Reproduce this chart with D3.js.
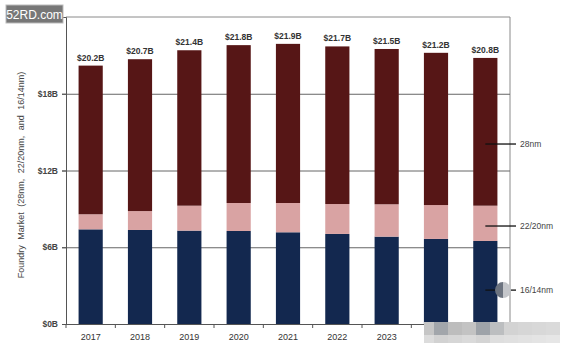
<!DOCTYPE html>
<html>
<head>
<meta charset="utf-8">
<script src="https://cdn.jsdelivr.net/npm/d3@7"></script>
<style>
  body { margin: 0; background: #fff; }
  text { font-family: "Liberation Sans", Arial, sans-serif; }
</style>
</head>
<body>
<div id="chart"></div>
<script>
// Data
const years = ['2017', '2018', '2019', '2020', '2021', '2022', '2023', '2024', '2025']
const nm1614 = [7.4, 7.35, 7.3, 7.27, 7.17, 7.04, 6.83, 6.65, 6.49]
const nm2220 = [1.18, 1.48, 1.95, 2.19, 2.29, 2.34, 2.53, 2.65, 2.76]
const nm28 = [11.62, 11.87, 12.15, 12.34, 12.44, 12.32, 12.14, 11.9, 11.55]
const totalLabels = ['$20.2B', '$20.7B', '$21.4B', '$21.8B', '$21.9B', '$21.7B', '$21.5B', '$21.2B', '$20.8B']
const yTicks = [0, 6, 12, 18]
const seriesNames = ['16/14nm', '22/20nm', '28nm']
// value level where each series label points into the last bar
const labelLevels = [2.65, 7.66, 14.07]

const rows = years.map((y, i) => ({ year: y, '16/14nm': nm1614[i], '22/20nm': nm2220[i], '28nm': nm28[i] }))

// Dimensions
const width = 586, height = 351
const plot = { left: 66, right: 510, top: 17, bottom: 324 }

const svg = d3.select('#chart').append('svg')
  .attr('width', width)
  .attr('height', height)

// Scales
const xScale = d3.scaleBand()
  .domain(years)
  .range([plot.left, plot.right])
  .paddingInner(0.51)
  .paddingOuter(0.255)

const yScale = d3.scaleLinear()
  .domain([0, 24])
  .range([plot.bottom, plot.top])

const color = d3.scaleOrdinal()
  .domain(seriesNames)
  .range(['#13284f', '#d9a3a3', '#561616'])

// frame (top + right)
svg.append('path')
  .attr('d', `M${plot.left},${plot.top}H${plot.right}V${plot.bottom}`)
  .attr('fill', 'none')
  .attr('stroke', '#8a8a8a')
  .attr('stroke-width', 1)

// gridlines
svg.append('g')
  .selectAll('line')
  .data(yTicks.filter(d => d > 0))
  .join('line')
  .attr('x1', plot.left - 4)
  .attr('x2', plot.right)
  .attr('y1', d => yScale(d) + 0.5)
  .attr('y2', d => yScale(d) + 0.5)
  .attr('stroke', '#666')
  .attr('stroke-width', 1)

// stacked bars
const stack = d3.stack().keys(seriesNames)(rows)

svg.append('g')
  .selectAll('g')
  .data(stack)
  .join('g')
  .attr('fill', d => color(d.key))
  .selectAll('rect')
  .data(d => d)
  .join('rect')
  .attr('x', d => xScale(d.data.year))
  .attr('width', xScale.bandwidth())
  .attr('y', d => yScale(d[1]))
  .attr('height', d => yScale(d[0]) - yScale(d[1]))

// total labels
svg.append('g')
  .selectAll('text')
  .data(rows)
  .join('text')
  .attr('x', d => xScale(d.year) + xScale.bandwidth() / 2)
  .attr('y', d => yScale(d3.sum(seriesNames, k => d[k])) - 5)
  .attr('text-anchor', 'middle')
  .attr('font-size', 8.5)
  .attr('font-weight', 'bold')
  .attr('fill', '#333')
  .text((d, i) => totalLabels[i])

// y axis
const yAxis = d3.axisLeft(yScale)
  .tickValues(yTicks)
  .tickSize(4)
  .tickPadding(4)
  .tickFormat(d => `$${d}B`)

const yG = svg.append('g')
  .attr('transform', `translate(${plot.left},0)`)
  .call(yAxis)
yG.select('.domain').attr('stroke', '#555')
yG.selectAll('.tick line').attr('stroke', '#555')
yG.selectAll('.tick text')
  .attr('font-size', 8.5)
  .attr('font-weight', 'bold')
  .attr('fill', '#444')
  .attr('font-family', '"Liberation Sans", Arial, sans-serif')

// x axis: ticks between categories
const xG = svg.append('g')
  .attr('transform', `translate(0,${plot.bottom})`)
xG.append('line')
  .attr('x1', plot.left - 4)
  .attr('x2', plot.right)
  .attr('y1', 0.5).attr('y2', 0.5)
  .attr('stroke', '#555')
const step = xScale.step()
xG.selectAll('.sep')
  .data(d3.range(years.length + 1))
  .join('line')
  .attr('class', 'sep')
  .attr('x1', i => plot.left + i * step)
  .attr('x2', i => plot.left + i * step)
  .attr('y1', 0).attr('y2', 4)
  .attr('stroke', '#555')
xG.selectAll('.lbl')
  .data(years)
  .join('text')
  .attr('class', 'lbl')
  .attr('x', d => xScale(d) + xScale.bandwidth() / 2)
  .attr('y', 16)
  .attr('text-anchor', 'middle')
  .attr('font-size', 9)
  .attr('fill', '#333')
  .text(d => d)

// y title
svg.append('text')
  .attr('transform', 'translate(24,175) rotate(-90)')
  .attr('text-anchor', 'middle')
  .attr('font-size', 9)
  .attr('fill', '#444')
  .attr('word-spacing', 3)
  .text('Foundry Market (28nm, 22/20nm, and 16/14nm)')

// series labels on the right, pointing into last bar
const lastX = xScale(years[years.length - 1]) + xScale.bandwidth() / 2
seriesNames.forEach((name, i) => {
  const labY = yScale(labelLevels[i])
  svg.append('line')
    .attr('x1', lastX).attr('x2', 516)
    .attr('y1', labY).attr('y2', labY)
    .attr('stroke', '#111').attr('stroke-width', 1.3)
  svg.append('text')
    .attr('x', 520).attr('y', labY + 3)
    .attr('font-size', 8.5)
    .attr('fill', '#444')
    .text(name)
})

// circle artefact on the 16/14nm label
const circY = yScale(labelLevels[0])
svg.append('path')
  .attr('d', d3.arc()({ innerRadius: 0, outerRadius: 8, startAngle: Math.PI, endAngle: 2 * Math.PI }))
  .attr('transform', `translate(503,${circY})`)
  .attr('fill', '#6d7480')
svg.append('path')
  .attr('d', d3.arc()({ innerRadius: 0, outerRadius: 8, startAngle: 0, endAngle: Math.PI }))
  .attr('transform', `translate(503,${circY})`)
  .attr('fill', '#c4c6ca')

// mosaic blur over bottom right
const mosaic = [
  [424, 322, '#c6c6c6'], [434, 322, '#a2a6ab'], [448, 322, '#bdbdbd'], [462, 322, '#c3c3c3'],
  [476, 322, '#9ea3a9'], [490, 322, '#bcbec0'], [504, 322, '#d3d3d3'], [518, 322, '#d6d6d6'],
  [532, 322, '#d8d8d8'], [546, 322, '#dadada'],
  [424, 335, '#dcdcdc'], [434, 335, '#d2d2d2'], [448, 335, '#d6d6d6'], [462, 335, '#dadada'],
  [476, 335, '#d4d4d4'], [490, 335, '#dedede'], [504, 335, '#e0e0e0'], [518, 335, '#e2e2e2'],
  [532, 335, '#e4e4e4'], [546, 335, '#e6e6e6']
]
svg.append('g')
  .selectAll('rect')
  .data(mosaic)
  .join('rect')
  .attr('x', d => d[0]).attr('y', d => d[1])
  .attr('width', 14).attr('height', d => d[1] === 322 ? 13 : 8)
  .attr('fill', d => d[2])

// watermark
svg.append('rect')
  .attr('x', 6).attr('y', 5).attr('width', 57).attr('height', 18)
  .attr('fill', '#777').attr('stroke', '#bbb')
svg.append('text')
  .attr('x', 34.5).attr('y', 18.5)
  .attr('text-anchor', 'middle')
  .attr('font-size', 12)
  .attr('fill', '#fff')
  .text('52RD.com')
</script>
</body>
</html>
